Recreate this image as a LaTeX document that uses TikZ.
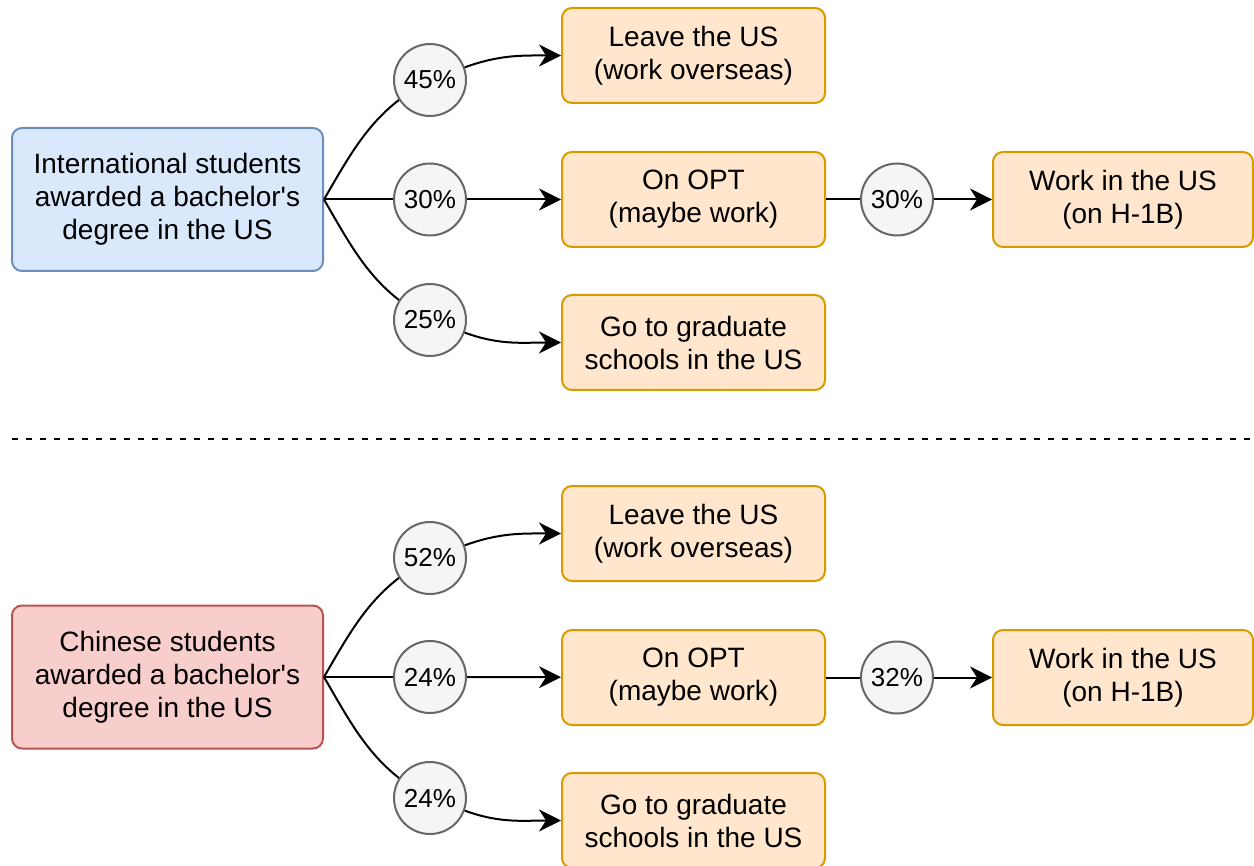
\documentclass[tikz,border=0pt]{standalone}
\usepackage{fontspec}
\setmainfont{Liberation Sans}[Ligatures=TeXOff]
\usetikzlibrary{arrows.meta}

\definecolor{intlfill}{HTML}{DAE8FC}
\definecolor{intldraw}{HTML}{6C8EBF}
\definecolor{cnfill}{HTML}{F8CECC}
\definecolor{cndraw}{HTML}{B85450}
\definecolor{outfill}{HTML}{FFE6CC}
\definecolor{outdraw}{HTML}{D79B00}
\definecolor{pctfill}{HTML}{F5F5F5}
\definecolor{pctdraw}{HTML}{666666}

\tikzset{
  box/.style={draw, rounded corners=5pt, line width=1pt, align=center,
    inner sep=0pt, font=\fontsize{14}{16.5}\selectfont},
  srcbox/.style={box, minimum width=155.5pt, minimum height=71.5pt},
  outbox/.style={box, fill=outfill, draw=outdraw,
    minimum width=131.5pt, minimum height=47.5pt},
  h1bbox/.style={outbox, minimum width=130pt},
  pct/.style={circle, draw=pctdraw, fill=pctfill, line width=1pt,
    minimum size=36pt, inner sep=0pt, font=\fontsize{13}{15}\selectfont},
  flow/.style={line width=1pt, -{Stealth[length=11pt,width=11pt,inset=3.5pt]}},
  link/.style={line width=1pt}
}

\begin{document}
\begin{tikzpicture}[x=0.5pt, y=-0.5pt]
  \useasboundingbox (0,0) rectangle (1254,866);

  % international students
  \node[srcbox, fill=intlfill, draw=intldraw] (intl) at (167.5,199.5)
    {International students\\awarded a bachelor's\\degree in the US};
  \node[outbox] (intlleave) at (693.5,55.5) {Leave the US\\(work overseas)};
  \node[outbox] (intlopt) at (693.5,199.5) {On OPT\\(maybe work)};
  \node[outbox] (intlgrad) at (693.5,342.5) {Go to graduate\\schools in the US};
  \node[h1bbox] (intlh1b) at (1123,199.5) {Work in the US\\(on H-1B)};

  \draw[link] (intl.east) to[out=60,in=208] (430,80);
  \draw[link] (intl.east) -- (430,199.5);
  \draw[link] (intl.east) to[out=-60,in=152] (430,320);
  \node[pct] (intlp1) at (430,80) {45\%};
  \node[pct] (intlp2) at (430,199.5) {30\%};
  \node[pct] (intlp3) at (430,320) {25\%};
  \node[pct] (intlp4) at (897,199.5) {30\%};
  \draw[flow] (intlp1) to[out=20,in=180] (intlleave.west);
  \draw[flow] (intlp2) -- (intlopt);
  \draw[flow] (intlp3) to[out=-20,in=180] (intlgrad.west);
  \draw[link] (intlopt) -- (intlp4);
  \draw[flow] (intlp4) -- (intlh1b);

  % separator
  \draw[line width=1pt, dash pattern=on 3pt off 4pt] (12,439) -- (1254,439);

  % chinese students
  \node[srcbox, fill=cnfill, draw=cndraw] (cn) at (167.5,677)
    {Chinese students\\awarded a bachelor's\\degree in the US};
  \node[outbox] (cnleave) at (693.5,533.5) {Leave the US\\(work overseas)};
  \node[outbox] (cnopt) at (693.5,677.5) {On OPT\\(maybe work)};
  \node[outbox] (cngrad) at (693.5,820.5) {Go to graduate\\schools in the US};
  \node[h1bbox] (cnh1b) at (1123,677.5) {Work in the US\\(on H-1B)};

  \draw[link] (cn.east) to[out=60,in=208] (430,558);
  \draw[link] (cn.east) -- (430,677);
  \draw[link] (cn.east) to[out=-60,in=152] (430,798);
  \node[pct] (cnp1) at (430,558) {52\%};
  \node[pct] (cnp2) at (430,677) {24\%};
  \node[pct] (cnp3) at (430,798) {24\%};
  \node[pct] (cnp4) at (897,677.5) {32\%};
  \draw[flow] (cnp1) to[out=20,in=180] (cnleave.west);
  \draw[flow] (cnp2) -- (cnopt);
  \draw[flow] (cnp3) to[out=-20,in=180] (cngrad.west);
  \draw[link] (cnopt) -- (cnp4);
  \draw[flow] (cnp4) -- (cnh1b);
\end{tikzpicture}
\end{document}
